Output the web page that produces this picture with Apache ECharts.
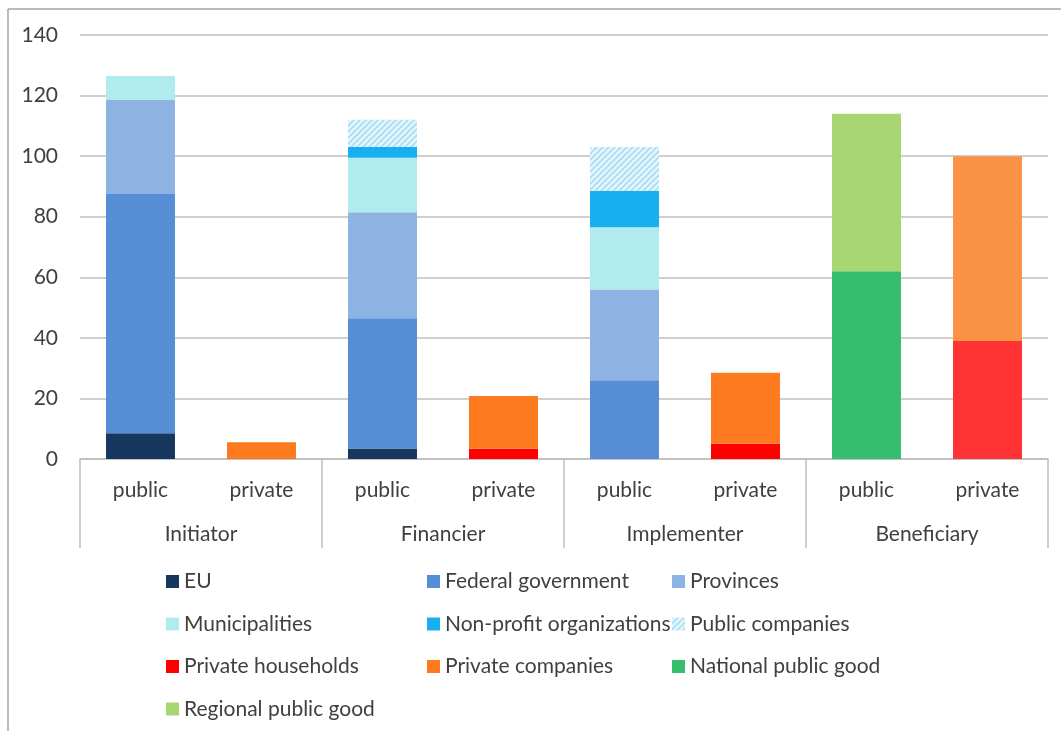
<!DOCTYPE html>
<html>
<head>
<meta charset="utf-8">
<script src="https://cdn.jsdelivr.net/npm/echarts@6/dist/echarts.min.js"></script>
<style>
html,body{margin:0;padding:0;background:#fff;}
#c{width:1061px;height:731px;}
</style>
</head>
<body>
<div id="c"></div>
<script>
const categories = ['public','private','public','private','public','private','public','private'];
const groups = ['Initiator','Financier','Implementer','Beneficiary'];
const yTicks = [0,20,40,60,80,100,120,140];

const euVals        = [8.5, 0, 3.5, 0, 0, 0, 0, 0];
const federalVals   = [79, 0, 43, 0, 26, 0, 0, 0];
const provincesVals = [31, 0, 35, 0, 30, 0, 0, 0];
const municipVals   = [8, 0, 18, 0, 20.5, 0, 0, 0];
const nonprofitVals = [0, 0, 3.5, 0, 12, 0, 0, 0];
const pubCompVals   = [0, 0, 9, 0, 14.5, 0, 0, 0];
const householdVals = [0, 0, 0, 3.4, 0, 5, 0, 39];
const privCompVals  = [0, 5.5, 0, 17.4, 0, 23.5, 0, 61];
const nationalVals  = [0, 0, 0, 0, 0, 0, 62, 0];
const regionalVals  = [0, 0, 0, 0, 0, 0, 52, 0];

// hatch pattern for Public companies
const pc = document.createElement('canvas');
pc.width = 6; pc.height = 6;
const g = pc.getContext('2d');
g.fillStyle = '#e6f5fc'; g.fillRect(0,0,6,6);
g.strokeStyle = '#a9dcf5'; g.lineWidth = 1.6;
g.beginPath(); g.moveTo(-1,7); g.lineTo(7,-1); g.moveTo(-1,1); g.lineTo(1,-1); g.moveTo(5,7); g.lineTo(7,5); g.stroke();

const FONT = 'Lato';
function mk(name, vals, color, altColor) {
  return {
    name: name, type: 'bar', stack: 'all', barWidth: '57%',
    itemStyle: { color: color },
    data: vals.map((v, i) => {
      const o = { value: v === 0 ? null : v };
      if (altColor && i === 7) o.itemStyle = { color: altColor };
      return o;
    })
  };
}

const series = [
  mk('EU', euVals, '#17375e'),
  mk('Federal government', federalVals, '#558ed5'),
  mk('Provinces', provincesVals, '#8db3e2'),
  mk('Municipalities', municipVals, '#b0ebee'),
  mk('Non-profit organizations', nonprofitVals, '#17aff0'),
  mk('Public companies', pubCompVals, { image: pc, repeat: 'repeat' }),
  mk('Private households', householdVals, '#ff0000', '#ff3333'),
  mk('Private companies', privCompVals, '#fd7a1e', '#fb9246'),
  mk('National public good', nationalVals, '#35be6d'),
  mk('Regional public good', regionalVals, '#a8d672')
];

const legendBase = {
  orient: 'vertical', icon: 'rect', itemWidth: 13, itemHeight: 13, itemGap: 21.5,
  top: 566, selectedMode: false,
  textStyle: { fontFamily: FONT, fontSize: 21, color: '#404040', lineHeight: 21 }
};

const chart = echarts.init(document.getElementById('c'), null, { renderer: 'canvas' });
chart.setOption({
  animation: false,
  backgroundColor: '#fff',
  grid: { left: 80, right: 13, top: 35, bottom: 272, containLabel: false },
  xAxis: [
    {
      type: 'category', data: categories, position: 'bottom',
      axisLine: { show: false }, axisTick: { show: false },
      axisLabel: { margin: 21, fontFamily: FONT, fontSize: 21, color: '#404040' }
    },
    {
      type: 'category', data: groups, position: 'bottom',
      axisLine: { show: true, lineStyle: { color: '#bfbfbf', width: 1.5 } },
      axisTick: { show: true, length: 89, lineStyle: { color: '#bfbfbf', width: 1.5 } },
      axisLabel: { margin: 65, fontFamily: FONT, fontSize: 21, color: '#404040' }
    }
  ],
  yAxis: {
    type: 'value', min: 0, max: 140, interval: 20,
    axisLine: { show: false }, axisTick: { show: false },
    axisLabel: { margin: 22, fontFamily: FONT, fontSize: 21, color: '#404040',
      formatter: v => yTicks.includes(v) ? String(v) : '' },
    splitLine: { lineStyle: { color: '#bfbfbf', width: 1.5 } }
  },
  legend: [
    Object.assign({}, legendBase, { left: 161, data: ['EU','Municipalities','Private households','Regional public good'] }),
    Object.assign({}, legendBase, { left: 422, data: ['Federal government','Non-profit organizations','Private companies'] }),
    Object.assign({}, legendBase, { left: 667, data: ['Provinces','Public companies','National public good'] })
  ],
  graphic: [
    { type: 'line', shape: { x1: 8, y1: 9, x2: 1061, y2: 9 }, style: { stroke: '#a6a6a6', lineWidth: 1.5 } },
    { type: 'line', shape: { x1: 8, y1: 9, x2: 8, y2: 731 }, style: { stroke: '#a6a6a6', lineWidth: 1.5 } }
  ],
  series: series
});
</script>
</body>
</html>
